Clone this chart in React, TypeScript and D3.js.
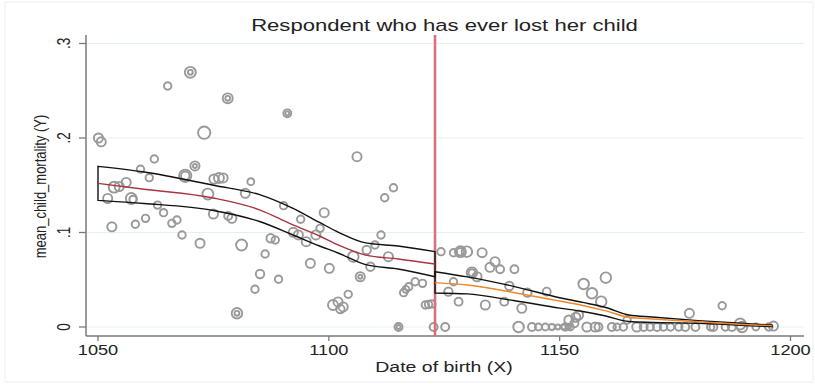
import React from 'react';
import * as d3 from 'd3';

// ---------- data ----------
const titleText = 'Respondent who has ever lost her child';
const xTitle = 'Date of birth (X)';
const yTitle = 'mean_child_mortality (Y)';
const xTicks = [1050, 1100, 1150, 1200];
const yTicks = [0, 0.1, 0.2, 0.3];
const yTickLabels = ['0', '.1', '.2', '.3'];
const cutoff = 1123;

const pointDates = [
  1050.1, 1050.7, 1070.0, 1070.0, 1065.1, 1073.0, 1062.2, 1071.0, 1071.0, 1068.9, 1068.9, 1059.2, 1061.1, 1056.1, 1053.5, 1054.6, 1052.1, 1057.2, 1057.6,
  1062.9, 1064.2, 1060.3, 1058.1, 1053.0, 1066.0, 1067.1, 1068.2, 1072.1, 1073.8, 1075.0, 1075.1, 1076.2, 1077.1,
  1078.1, 1078.1, 1091.0, 1091.0, 1083.1, 1081.9, 1079.0, 1078.2, 1090.2, 1093.9, 1099.0, 1092.3, 1093.4, 1095.1, 1097.2, 1098.1, 1087.4, 1088.4, 1081.1, 1086.2, 1096.0, 1100.1, 1085.1, 1089.1, 1084.0, 1080.1, 1080.1, 1100.9, 1102.0, 1103.1, 1102.5,
  1106.1, 1114.0, 1112.1, 1111.3, 1110.0, 1108.2, 1105.3, 1112.9, 1109.0, 1106.8, 1106.8, 1104.2, 1116.2, 1117.3, 1118.7, 1120.3, 1116.7, 1120.9, 1122.3, 1121.6, 1115.1, 1115.1, 1122.7, 1125.2, 1124.3, 1127.0,
  1128.5, 1128.5, 1129.9, 1133.2, 1136.0, 1134.9, 1137.1, 1140.2, 1131.0, 1131.0, 1132.1, 1127.0, 1139.1, 1143.0, 1147.2, 1125.9, 1128.1, 1133.9, 1138.0, 1141.8, 1141.1, 1144.0, 1145.4, 1146.9, 1148.3, 1149.6, 1150.8, 1151.9, 1152.0,
  1160.0, 1155.2, 1157.0, 1159.0, 1154.1, 1153.5, 1178.1, 1164.6, 1185.2, 1189.1, 1189.5, 1196.3, 1195.3, 1153.2,
  1151.2, 1152.3, 1155.9, 1157.7, 1158.4, 1161.3, 1162.4, 1163.8, 1166.7, 1168.2, 1169.6, 1171.1, 1172.5, 1174.0, 1175.8, 1177.2, 1179.4, 1182.7, 1183.3, 1185.9, 1187.3, 1192.5,
];
const pointValues = [
  0.200, 0.196, 0.2695, 0.2695, 0.255, 0.2056, 0.1778, 0.1704, 0.1704, 0.160, 0.160, 0.167, 0.158, 0.153, 0.148, 0.1487, 0.136, 0.136, 0.135,
  0.129, 0.121, 0.115, 0.1087, 0.106, 0.1097, 0.1132, 0.0974, 0.0886, 0.1407, 0.1196, 0.1566, 0.1577, 0.1577,
  0.242, 0.242, 0.2261, 0.2261, 0.1538, 0.1415, 0.115, 0.1175, 0.1284, 0.114, 0.121, 0.1002, 0.0974, 0.0903, 0.0974, 0.1044, 0.0939, 0.092, 0.0868, 0.0772, 0.0674, 0.0621, 0.0561, 0.0505, 0.0399, 0.0145, 0.0145, 0.0233, 0.0265, 0.0212, 0.019,
  0.1802, 0.1474, 0.1368, 0.0974, 0.0868, 0.0815, 0.0744, 0.0744, 0.0638, 0.0532, 0.0532, 0.0346, 0.0363, 0.0426, 0.0479, 0.0462, 0.0399, 0.0233, 0.0243, 0.0238, 0, 0, 0, 0, 0.0797, 0.0786,
  0.0797, 0.0797, 0.0797, 0.0786, 0.0691, 0.0632, 0.0611, 0.0611, 0.0575, 0.0575, 0.0532, 0.0479, 0.0434, 0.0363, 0.0374, 0.0374, 0.0268, 0.0233, 0.0268, 0.0198, 0, 0, 0, 0, 0, 0, 0, 0, 0.0074,
  0.0522, 0.0455, 0.0357, 0.0268, 0.0127, 0.0103, 0.0145, 0.0074, 0.0225, 0.0032, 0, 0.001, 0, 0.004,
  0, 0, 0, 0, 0, 0, 0, 0, 0, 0, 0, 0, 0, 0, 0, 0, 0, 0, 0, 0, 0, 0,
];
const pointWeights = [
  21, 21, 30, 6, 14, 38, 14, 21, 4, 38, 18, 14, 14, 21, 30, 21, 21, 30, 14,
  14, 14, 14, 14, 21, 14, 14, 14, 21, 30, 21, 21, 25, 21,
  25, 6, 16, 4, 12, 21, 21, 16, 14, 14, 21, 21, 21, 21, 21, 14, 18, 14, 30, 14, 21, 21, 18, 14, 14, 28, 6, 25, 21, 21, 18,
  21, 14, 14, 14, 14, 18, 28, 21, 18, 21, 4, 14, 14, 14, 14, 14, 12, 14, 14, 14, 16, 4, 16, 16, 14, 14,
  30, 14, 28, 21, 21, 21, 16, 16, 28, 12, 21, 14, 18, 18, 16, 18, 16, 21, 16, 21, 28, 16, 12, 12, 9, 6, 6, 6, 21,
  28, 28, 28, 28, 21, 21, 21, 14, 14, 30, 28, 21, 14, 16,
  14, 12, 21, 21, 16, 16, 12, 14, 21, 16, 14, 16, 14, 14, 14, 16, 16, 14, 16, 14, 16, 12,
];

const leftDates = [1050, 1060, 1075, 1085, 1092, 1098, 1102, 1108, 1115, 1123];
const leftFit = [0.152, 0.1458, 0.1365, 0.124, 0.1085, 0.0963, 0.0868, 0.076, 0.072, 0.0667];
const leftUpper = [0.170, 0.164, 0.150, 0.140, 0.126, 0.1106, 0.1005, 0.089, 0.0857, 0.0797];
const leftLower = [0.134, 0.1307, 0.1233, 0.1116, 0.0979, 0.0857, 0.0783, 0.066, 0.0614, 0.0532];

const rightDates = [1123, 1130, 1140, 1150, 1155, 1160, 1165, 1170, 1180, 1190, 1196];
const rightFit = [0.047, 0.0444, 0.0365, 0.0275, 0.0228, 0.017, 0.0103, 0.0085, 0.0056, 0.0026, 0.0014];
const rightUpper = [0.0585, 0.053, 0.043, 0.031, 0.026, 0.0206, 0.0127, 0.0106, 0.0067, 0.0037, 0.002];
const rightLower = [0.036, 0.035, 0.028, 0.020, 0.0164, 0.0116, 0.0058, 0.0048, 0.004, 0.0016, 0.0003];

// ---------- layout ----------
const W = 815;
const H = 384;
const plot = { left: 86, right: 804, top: 35, bottom: 336 };
const STRETCH = 1.3;
const FONT = '"Liberation Sans", Arial, Helvetica, sans-serif';

const x = d3.scaleLinear().domain([1050, 1200]).range([98, 790.5]);
const y = d3.scaleLinear().domain([0, 0.3]).range([327, 43.5]);
const r = d3.scaleSqrt().domain([0, 40]).range([0, 6.3]);

const line = d3
  .line<[number, number]>()
  .x((d) => x(d[0]))
  .y((d) => y(d[1]))
  .curve(d3.curveMonotoneX);

function band(dates: number[], upper: number[], lower: number[]) {
  const up = dates.map((d, i) => [d, upper[i]] as [number, number]);
  const lo = dates.map((d, i) => [d, lower[i]] as [number, number]).reverse();
  const p1 = line(up) || '';
  const p2 = (line(lo) || '').replace(/^M/, 'L');
  return p1 + p2 + 'Z';
}

function STxt(props: {
  x: number;
  y: number;
  size: number;
  anchor?: string;
  rotate?: number;
  color?: string;
  children: React.ReactNode;
}) {
  const { x: tx, y: ty, size, anchor = 'middle', rotate = 0, color = '#222' } = props;
  return (
    <g transform={`translate(${tx},${ty}) scale(${STRETCH},1)${rotate ? ` rotate(${rotate})` : ''}`}>
      <text
        x={0}
        y={0}
        textAnchor={anchor as any}
        fontFamily={FONT}
        fontSize={size}
        fill={color}
      >
        {props.children}
      </text>
    </g>
  );
}

export default function App() {
  const n = Math.min(pointDates.length, pointValues.length, pointWeights.length);
  const idx = d3.range(n);
  const leftFitPath = line(leftDates.map((d, i) => [d, leftFit[i]] as [number, number])) || '';
  const rightFitPath = line(rightDates.map((d, i) => [d, rightFit[i]] as [number, number])) || '';

  return (
    <svg
      width={W}
      height={H}
      style={{ position: 'absolute', left: 0, top: 0, background: '#fff' }}
    >
      <rect x={5} y={2} width={808} height={380} fill="#fff" stroke="#eeeeee" strokeWidth={1} />

      {/* gridlines */}
      {yTicks.map((t) => (
        <line
          key={'g' + t}
          x1={plot.left}
          x2={plot.right}
          y1={y(t)}
          y2={y(t)}
          stroke="#e6eff0"
          strokeWidth={1}
        />
      ))}

      {/* axes */}
      <line x1={plot.left} x2={plot.left} y1={plot.top} y2={plot.bottom} stroke="#7a7a7a" strokeWidth={1.5} />
      <line x1={plot.left} x2={plot.right} y1={plot.bottom} y2={plot.bottom} stroke="#7a7a7a" strokeWidth={1.5} />
      {yTicks.map((t, i) => (
        <g key={'yt' + t}>
          <line x1={plot.left - 7} x2={plot.left} y1={y(t)} y2={y(t)} stroke="#7a7a7a" strokeWidth={1.3} />
          <STxt x={70} y={y(t)} size={13.5} rotate={-90}>
            {yTickLabels[i]}
          </STxt>
        </g>
      ))}
      {xTicks.map((t) => (
        <g key={'xt' + t}>
          <line x1={x(t)} x2={x(t)} y1={plot.bottom} y2={plot.bottom + 5} stroke="#7a7a7a" strokeWidth={1.3} />
          <STxt x={x(t)} y={355} size={14}>
            {String(t)}
          </STxt>
        </g>
      ))}

      {/* scatter */}
      {idx.map((i) => (
        <circle
          key={'p' + i}
          cx={x(pointDates[i])}
          cy={y(pointValues[i])}
          r={r(pointWeights[i])}
          fill="none"
          stroke="#999999"
          strokeWidth={1.9}
        />
      ))}

      {/* cutoff line */}
      <line x1={x(cutoff)} x2={x(cutoff)} y1={plot.top} y2={plot.bottom} stroke="#d9707c" strokeWidth={2.6} />

      {/* fits */}
      <path d={band(leftDates, leftUpper, leftLower)} fill="none" stroke="#111" strokeWidth={1.4} />
      <path d={leftFitPath} fill="none" stroke="#a8343f" strokeWidth={1.4} />
      <path d={band(rightDates, rightUpper, rightLower)} fill="none" stroke="#111" strokeWidth={1.4} />
      <path d={rightFitPath} fill="none" stroke="#f0862a" strokeWidth={1.4} />

      {/* titles */}
      <STxt x={444.5} y={30.5} size={17}>
        {titleText}
      </STxt>
      <STxt x={444} y={371.5} size={15}>
        {xTitle}
      </STxt>
      <STxt x={46} y={186.5} size={13} rotate={-90}>
        {yTitle}
      </STxt>
    </svg>
  );
}
